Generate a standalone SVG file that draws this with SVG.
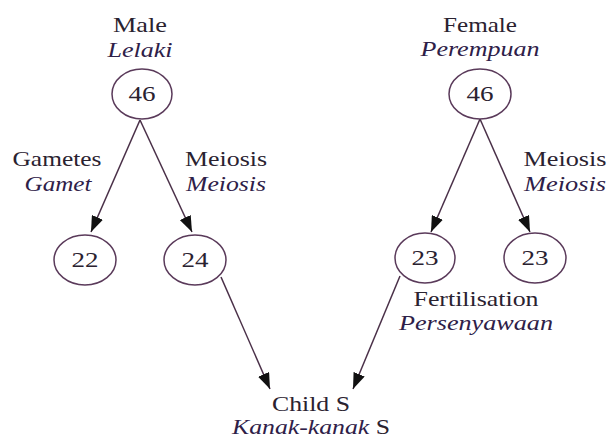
<svg xmlns="http://www.w3.org/2000/svg" width="607" height="439" viewBox="0 0 607 439" font-family="Liberation Serif, serif">
<defs>
<style>
text{font-family:'Liberation Serif',serif;font-size:21px;fill:#2a2230;text-anchor:middle}
.i{font-style:italic;fill:#2e2048}
ellipse{fill:#fff;stroke:#5a3a5a;stroke-width:1.5}
.c line{stroke:#4a3048;stroke-width:1.5;marker-end:url(#ah)}
</style>
<marker id="ah" viewBox="0 0 16 12" refX="16" refY="6" markerWidth="16" markerHeight="12" markerUnits="userSpaceOnUse" orient="auto">
<path d="M0,0 L16,6 L0,12 z" fill="#111"/>
</marker>
</defs>
<rect width="607" height="439" fill="#fff"/>
<g class="c" id="connectors">
<line x1="140" y1="120" x2="91" y2="232"/>
<line x1="140" y1="120" x2="192" y2="232"/>
<line x1="480" y1="119" x2="431" y2="232"/>
<line x1="480" y1="119" x2="530" y2="232"/>
<line x1="221" y1="277" x2="270" y2="389"/>
<line x1="400" y1="276" x2="353" y2="389"/>
</g>
<g id="male">
<text x="140" y="32" textLength="54" lengthAdjust="spacingAndGlyphs">Male</text>
<text class="i" x="140" y="57" textLength="65" lengthAdjust="spacingAndGlyphs">Lelaki</text>
<ellipse cx="142" cy="94" rx="30" ry="25"/>
<text x="142" y="101" textLength="27" lengthAdjust="spacingAndGlyphs">46</text>
</g>
<g id="female">
<text x="480" y="32" textLength="74" lengthAdjust="spacingAndGlyphs">Female</text>
<text class="i" x="480" y="56" textLength="119" lengthAdjust="spacingAndGlyphs">Perempuan</text>
<ellipse cx="480" cy="94" rx="31" ry="25"/>
<text x="480" y="101" textLength="27" lengthAdjust="spacingAndGlyphs">46</text>
</g>
<g id="label-gametes">
<text x="57" y="166" textLength="89" lengthAdjust="spacingAndGlyphs">Gametes</text>
<text class="i" x="58" y="191" textLength="67" lengthAdjust="spacingAndGlyphs">Gamet</text>
</g>
<g id="label-meiosis-left">
<text x="226" y="166" textLength="82" lengthAdjust="spacingAndGlyphs">Meiosis</text>
<text class="i" x="226" y="191" textLength="80" lengthAdjust="spacingAndGlyphs">Meiosis</text>
</g>
<g id="label-meiosis-right">
<text x="565" y="166" textLength="83" lengthAdjust="spacingAndGlyphs">Meiosis</text>
<text class="i" x="565" y="191" textLength="82" lengthAdjust="spacingAndGlyphs">Meiosis</text>
</g>
<g id="n22">
<ellipse cx="85" cy="260" rx="31" ry="25"/>
<text x="85" y="267" textLength="27" lengthAdjust="spacingAndGlyphs">22</text>
</g>
<g id="n24">
<ellipse cx="195" cy="260" rx="31" ry="25"/>
<text x="195" y="267" textLength="27" lengthAdjust="spacingAndGlyphs">24</text>
</g>
<g id="n23a">
<ellipse cx="425" cy="258" rx="30" ry="25"/>
<text x="425" y="265" textLength="27" lengthAdjust="spacingAndGlyphs">23</text>
</g>
<g id="n23b">
<ellipse cx="535" cy="258" rx="31" ry="25"/>
<text x="535" y="265" textLength="27" lengthAdjust="spacingAndGlyphs">23</text>
</g>
<g id="label-fertilisation">
<text x="476" y="306" textLength="125" lengthAdjust="spacingAndGlyphs">Fertilisation</text>
<text class="i" x="476" y="330" textLength="154" lengthAdjust="spacingAndGlyphs">Persenyawaan</text>
</g>
<g id="child">
<text x="311" y="411" textLength="78" lengthAdjust="spacingAndGlyphs">Child S</text>
<text x="311" y="434" textLength="158" lengthAdjust="spacingAndGlyphs"><tspan class="i">Kanak-kanak</tspan> S</text>
</g>
</svg>
